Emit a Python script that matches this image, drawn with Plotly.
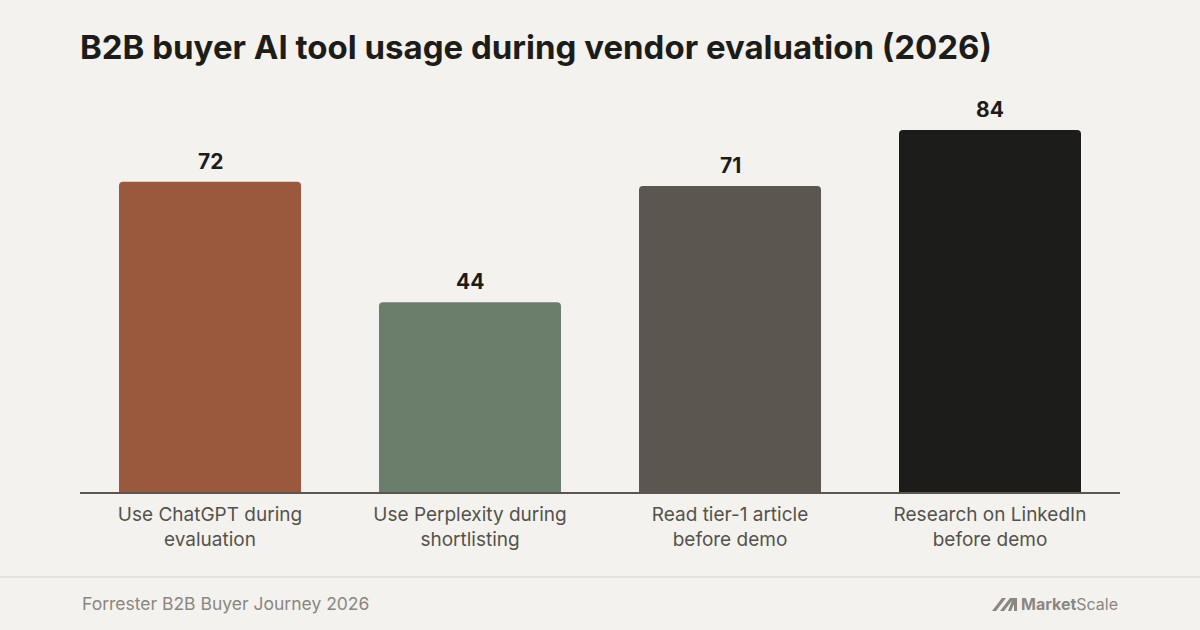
import plotly.graph_objects as go

categories = ["Use ChatGPT during<br>evaluation",
              "Use Perplexity during<br>shortlisting",
              "Read tier-1 article<br>before demo",
              "Research on LinkedIn<br>before demo"]
values = [72, 44, 71, 84]
bar_colors = ["#9a583c", "#6b7d6b", "#5b5650", "#1c1c1a"]

title_text = "B2B buyer AI tool usage during vendor evaluation (2026)"
source_text = "Forrester B2B Buyer Journey 2026"

BG = "#f4f2ee"
W, H = 1200, 630
L, R, T, B = 80, 80, 100, 138


def px(x, y):
    # pixel position -> paper coords
    return (x - L) / (W - L - R), (H - B - y) / (H - T - B)


fig = go.Figure(go.Bar(
    x=categories, y=values,
    marker=dict(color=bar_colors, cornerradius=4, line=dict(width=0)),
    cliponaxis=False, hoverinfo="skip",
))

# value labels above bars
for c, v in zip(categories, values):
    fig.add_annotation(x=c, y=v, text="<b>%d</b>" % v, showarrow=False,
                       yanchor="bottom", yshift=6,
                       font=dict(family="Inter", size=21, color="#1c1c1a"))

fig.update_layout(
    width=W, height=H,
    paper_bgcolor=BG, plot_bgcolor=BG,
    margin=dict(l=L, r=R, t=T, b=B),
    bargap=0.3,
    showlegend=False,
    title=dict(text="<b>" + title_text + "</b>", x=80 / W, xanchor="left",
               y=1 - 47 / H, yanchor="middle",
               font=dict(family="Inter", size=33, color="#1c1c1a")),
)
fig.update_xaxes(showgrid=False, showline=True, linecolor="#5b5650", linewidth=2,
                 ticks="", ticklabelstandoff=4,
                 tickfont=dict(family="Inter", size=19, color="#55524c"),
                 fixedrange=True)
fig.update_yaxes(range=[0, 392 / 4.31], visible=False, showgrid=False, zeroline=False)

# footer divider
x0, y0 = px(0, 577)
x1, _ = px(W, 577)
fig.add_shape(type="line", xref="paper", yref="paper", x0=x0, x1=x1, y0=y0, y1=y0,
              line=dict(color="#e4e1dc", width=2))

sx, sy = px(80, 603)
fig.add_annotation(text=source_text, xref="paper", yref="paper", x=sx, y=sy,
                   xanchor="left", yanchor="middle", showarrow=False,
                   font=dict(family="Inter", size=17.5, color="#8a8680"))

lx, ly = px(1120, 604)
fig.add_annotation(text="<b>Market</b>Scale", xref="paper", yref="paper", x=lx, y=ly,
                   xanchor="right", yanchor="middle", showarrow=False,
                   font=dict(family="Inter", size=16, color="#8a8783"))

# logo mark: slanted strokes
def poly(pts):
    s = ""
    for i, (a, b) in enumerate(pts):
        xa, yb = px(a, b)
        s += ("M" if i == 0 else "L") + f"{xa},{yb} "
    return s + "Z"

for off in (0, 8):
    fig.add_shape(type="path", xref="paper", yref="paper",
                  path=poly([(992 + off, 611), (1002 + off, 598), (1006 + off, 598), (996 + off, 611)]),
                  fillcolor="#8a8783", line=dict(width=0))
fig.add_shape(type="path", xref="paper", yref="paper",
              path=poly([(1008, 611), (1013, 598), (1017, 598), (1017, 611), (1014, 611), (1014, 604), (1011, 611)]),
              fillcolor="#8a8783", line=dict(width=0))

fig.write_html("out.html", config={"displayModeBar": False},
               post_script="document.body.style.margin='0';document.body.style.background='%s';" % BG)
